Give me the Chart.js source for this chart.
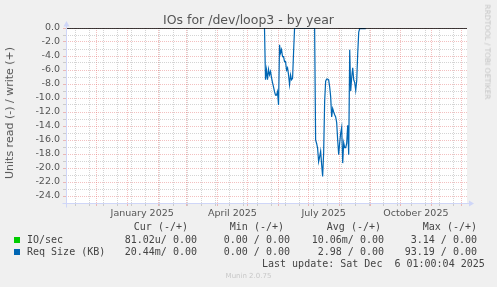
<!DOCTYPE html>
<html>
<head>
<meta charset="utf-8">
<title>IOs for /dev/loop3 - by year</title>
<script src="https://cdn.jsdelivr.net/npm/chart.js@4.4.1/dist/chart.umd.min.js"></script>
<style>
	body { margin: 0; background: #f0f0f0; }
	#wrap { position: relative; width: 497px; height: 287px; overflow: hidden; font-family: "DejaVu Sans", sans-serif; color: #555; }
	#chart { position: absolute; left: 0; top: 0; }
	.t { position: absolute; white-space: pre; line-height: 12px; }
	.mono { font-family: "DejaVu Sans Mono", monospace; font-size: 10px; color: #444; }
	.box { position: absolute; width: 6px; height: 6px; }
</style>
</head>
<body>
<div id="wrap">
	<canvas id="chart" width="497" height="287"></canvas>
	<div class="t" style="left:0;width:497px;text-align:center;top:12px;font-size:12.5px;line-height:15px;">IOs for /dev/loop3 - by year</div>
	<div class="t" style="left:10px;top:113px;font-size:11px;transform:translate(-50%,-50%) rotate(-90deg);">Units read (-) / write (+)</div>
	<div class="t" style="left:487px;top:52px;font-size:7.4px;color:#c4c4c4;transform:translate(-50%,-50%) rotate(90deg);">RRDTOOL / TOBI OETIKER</div>
	<div class="t" style="left:0;width:497px;text-align:center;top:270px;font-size:7px;color:#c8c8c8;">Munin 2.0.75</div>
	<div id="legend"></div>
</div>
<script>
"use strict";

// 1: data
// x axis counts days from 1 Nov 2024 (day 0) to 6 Dec 2025 (day 400)
const xMin = 0;
const xMax = 400;
const monthStarts = [30, 61, 92, 120, 151, 181, 212, 242, 273, 304, 334, 365, 395];
const minorDays = [9, 23, 37, 51, 65, 79, 93, 107, 121, 135, 149, 163, 177, 191, 205,
	219, 233, 247, 261, 275, 289, 303, 317, 331, 345, 359, 373, 387];
const labelDays = [76, 166, 257, 349];
const labelNames = ["January 2025", "April 2025", "July 2025", "October 2025"];
const yMin = -25;
const yMax = 0;

// Req Size (KB), read side (negative), one value per day from firstDay
const firstDay = 198;
const reqSizeRead = [
	0, -7.4, -6.0, -7.4, -5.9, -6.7, -6.2, -7.1, -7.8, -8.4,
	-9.1, -9.6, -9.6, -9.1, -11.0, -2.4, -3.6, -3.1, -4.1, -4.1,
	-4.8, -4.8, -6.0, -5.7, -6.7, -8.1, -6.7, -7.4, -7.2, -3.5,
	0, 0, 0, 0, 0, 0, 0, 0, 0, 0,
	0, 0, 0, 0, 0, 0, 0, 0, 0, 0, 0,
	-16.0, -16.5, -17.2, -19.1, -18.4, -17.6, -19.5, -21.2, -17.9, -10.5,
	-7.6, -7.3, -7.3, -7.4, -8.4, -9.8, -12.7, -11.5, -12.0, -12.4,
	-12.7, -13.5, -16.0, -18.1, -16.4, -15.0, -14.2, -19.3, -16.4, -17.1,
	-17.1, -16.5, -13.9, -18.1, -3.1, -9.0, -7.0, -5.7, -7.4, -7.8,
	-8.9, -7.5, -3.6, -0.6,
	-0.1, -0.1, -0.1, -0.1, -0.1, -0.1, -0.1
];

// legend table
const seriesNames = ["IO/sec", "Req Size (KB)"];
const seriesColors = ["#00cc00", "#0066b3"];
const curText = ["81.02u/ 0.00", "20.44m/ 0.00"];
const minText = ["0.00 / 0.00", "0.00 / 0.00"];
const avgText = ["10.06m/ 0.00", "2.98 / 0.00"];
const maxText = ["3.14 / 0.00", "93.19 / 0.00"];
const lastUpdate = "Last update: Sat Dec  6 01:00:04 2025";

// 2: prepare data for chart
const majorColor = "rgba(222, 79, 79, 0.36)";
const minorColor = "rgba(143, 143, 143, 0.38)";
const axisColor = "#cfd6f8";

function prepareData() {
	let xTicks = [];
	for (const d of monthStarts) xTicks.push({ value: d, kind: "major", text: "" });
	for (const d of minorDays) xTicks.push({ value: d, kind: "minor", text: "" });
	labelDays.forEach((d, i) => xTicks.push({ value: d, kind: "label", text: labelNames[i] }));

	let yTicks = [];
	for (let v = yMin; v <= yMax; v++) yTicks.push(v);

	let reqPoints = reqSizeRead.map((v, i) => ({ x: firstDay + i, y: v }));
	let zeroLine = [{ x: xMin, y: 0 }, { x: xMax, y: 0 }];

	return { xTicks, yTicks, reqPoints, zeroLine };
}

// white canvas, axis lines and arrows like rrdtool
const rrdFrame = {
	id: "rrdFrame",
	beforeDraw(chart) {
		const { ctx, chartArea: a } = chart;
		ctx.save();
		ctx.fillStyle = "#ffffff";
		ctx.fillRect(a.left, a.top, a.right - a.left, a.bottom - a.top);
		ctx.restore();
	},
	afterDraw(chart) {
		const { ctx, chartArea: a } = chart;
		const l = Math.round(a.left) + 0.5;
		const b = Math.round(a.bottom) + 0.5;
		ctx.save();
		ctx.strokeStyle = axisColor;
		ctx.fillStyle = axisColor;
		ctx.lineWidth = 1;
		ctx.beginPath();
		ctx.moveTo(l, b + 4);
		ctx.lineTo(l, a.top - 2);
		ctx.moveTo(l - 4, b);
		ctx.lineTo(a.right + 3, b);
		ctx.stroke();
		ctx.beginPath();
		ctx.moveTo(l - 3, a.top - 1.5);
		ctx.lineTo(l + 3, a.top - 1.5);
		ctx.lineTo(l, a.top - 7);
		ctx.closePath();
		ctx.fill();
		ctx.beginPath();
		ctx.moveTo(a.right + 2, b - 3);
		ctx.lineTo(a.right + 2, b + 3);
		ctx.lineTo(a.right + 7, b);
		ctx.closePath();
		ctx.fill();
		ctx.restore();
	}
};

// 3: create the chart
function appendChart(data) {
	const tickFont = { family: "DejaVu Sans", size: 9.5 };
	let chart = new Chart(document.querySelector("#chart"), {
		type: "line",
		data: {
			datasets: [{
				label: "zero",
				data: data.zeroLine,
				borderColor: "#000000",
				borderWidth: 1.5,
				pointRadius: 0,
				order: 0
			}, {
				label: "Req Size (KB)",
				data: data.reqPoints,
				borderColor: "#0066b3",
				borderWidth: 1.2,
				pointRadius: 0,
				tension: 0,
				order: 1
			}]
		},
		options: {
			responsive: false,
			animation: false,
			devicePixelRatio: 1,
			layout: { padding: { top: 28, right: 30, bottom: 64, left: 0 } },
			plugins: {
				legend: { display: false },
				title: { display: false },
				tooltip: { enabled: false }
			},
			scales: {
				x: {
					type: "linear",
					min: xMin,
					max: xMax,
					afterBuildTicks: scale => {
						scale.ticks = data.xTicks.map(t => ({ value: t.value }));
					},
					afterFit: scale => { scale.height = 20; },
					ticks: {
						autoSkip: false,
						maxRotation: 0,
						padding: 1.5,
						color: "#555",
						font: tickFont,
						callback: (v, i) => data.xTicks[i].text
					},
					grid: {
						color: ctx => {
							const t = data.xTicks[ctx.index];
							if (!t || t.kind === "label") return "rgba(0,0,0,0)";
							return t.kind === "major" ? majorColor : minorColor;
						},
						tickLength: 3
					},
					border: { display: false, dash: [1, 1] }
				},
				y: {
					min: yMin,
					max: yMax,
					afterBuildTicks: scale => {
						scale.ticks = data.yTicks.map(v => ({ value: v }));
					},
					afterFit: scale => { scale.width = 66; },
					ticks: {
						autoSkip: false,
						padding: 3,
						color: "#555",
						font: tickFont,
						callback: v => (v % 2 === 0 ? v.toFixed(1) : "")
					},
					grid: {
						color: ctx => (ctx.tick && ctx.tick.value % 2 === 0 ? majorColor : minorColor),
						tickLength: 3
					},
					border: { display: false, dash: [1, 1] }
				}
			}
		},
		plugins: [rrdFrame]
	});
	return chart;
}

// 4: legend table under the chart
function addText(parent, text, css) {
	const el = document.createElement("div");
	el.className = "t mono";
	el.textContent = text;
	Object.assign(el.style, css);
	parent.appendChild(el);
}

function appendLegend() {
	const legend = document.querySelector("#legend");
	const rightOf = x => (497 - x) + "px";
	addText(legend, "Cur (-/+)", { right: rightOf(188), top: "221px" });
	addText(legend, "Min (-/+)", { right: rightOf(284), top: "221px" });
	addText(legend, "Avg (-/+)", { right: rightOf(381), top: "221px" });
	addText(legend, "Max (-/+)", { right: rightOf(477), top: "221px" });
	seriesNames.forEach((name, i) => {
		const top = 234 + i * 12;
		const box = document.createElement("div");
		box.className = "box";
		box.style.left = "14px";
		box.style.top = (top + 3) + "px";
		box.style.background = seriesColors[i];
		legend.appendChild(box);
		addText(legend, name, { left: "27px", top: top + "px" });
		addText(legend, curText[i], { right: rightOf(197), top: top + "px" });
		addText(legend, minText[i], { right: rightOf(290), top: top + "px" });
		addText(legend, avgText[i], { right: rightOf(384), top: top + "px" });
		addText(legend, maxText[i], { right: rightOf(477), top: top + "px" });
	});
	addText(legend, lastUpdate, { left: "262px", top: "257.5px" });
}

let data = prepareData();
appendChart(data);
appendLegend();
</script>
</body>
</html>
